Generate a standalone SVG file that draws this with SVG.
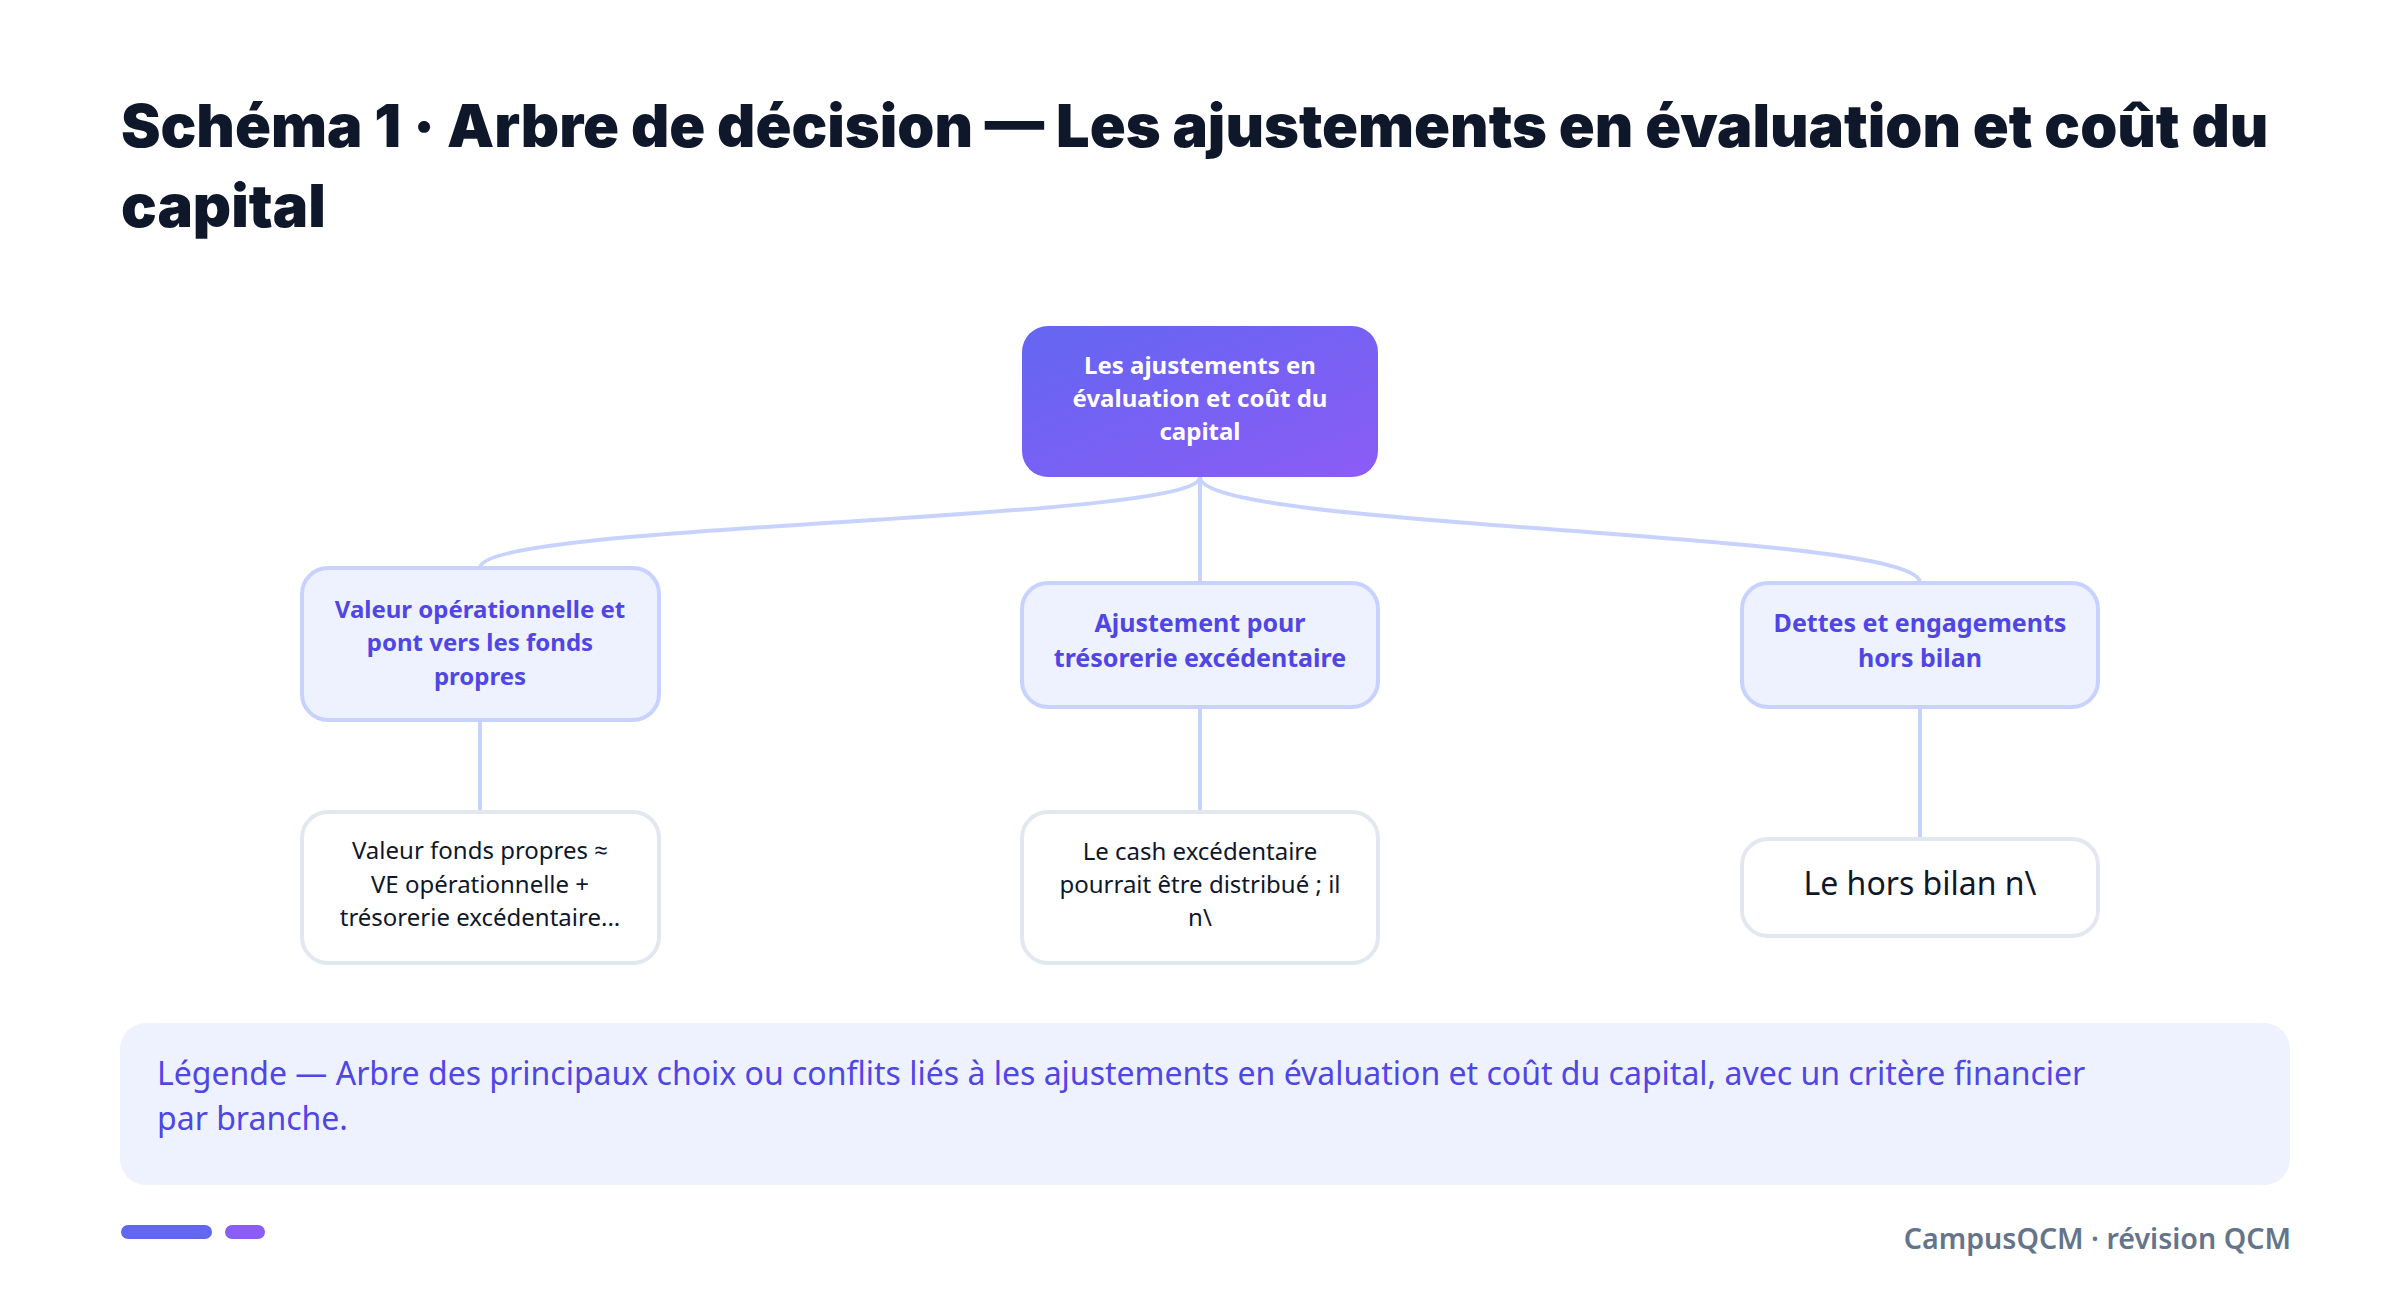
<svg xmlns="http://www.w3.org/2000/svg" width="2400" height="1293" viewBox="0 0 2400 1293">
  <defs>
    <linearGradient id="rootGrad" x1="0" y1="0" x2="1" y2="1">
      <stop offset="0" stop-color="#6366f1"/>
      <stop offset="1" stop-color="#8b5cf6"/>
    </linearGradient>
    <style>
      .title { font-family: "Inter", "Noto Sans", sans-serif; font-weight: 900; font-size: 59.4px; fill: #0f172a; }
      .rootText { font-family: "Noto Sans", "Open Sans", sans-serif; font-weight: 700; font-size: 24px; fill: #ffffff; text-anchor: middle; }
      .l1 { fill: #eef2ff; stroke: #c7d2fe; stroke-width: 4; }
      .l1Text { font-family: "Noto Sans", "Open Sans", sans-serif; font-weight: 700; font-size: 25px; fill: #4f46e5; text-anchor: middle; }
      .l2 { fill: #ffffff; stroke: #e2e8f0; stroke-width: 4; }
      .l2Text { font-family: "Noto Sans", "Open Sans", sans-serif; font-weight: 400; font-size: 24px; fill: #0f172a; text-anchor: middle; }
      .edge { fill: none; stroke: #c7d2fe; stroke-width: 4; stroke-linecap: round; }
      .legend { font-family: "Noto Sans", "Open Sans", sans-serif; font-size: 32px; fill: #4f46e5; }
      .footer { font-family: "Noto Sans", "Open Sans", sans-serif; font-weight: 600; font-size: 28.6px; fill: #64748b; text-anchor: end; }
    </style>
  </defs>
  <rect width="2400" height="1293" fill="#ffffff"/>

  <text class="title" x="121" y="147">Schéma 1 · Arbre de décision — Les ajustements en évaluation et coût du</text>
  <text class="title" x="121" y="227">capital</text>

  <g id="connectors">
    <path class="edge" d="M1200,477 C1200,522 480,522 480,568"/>
    <path class="edge" d="M1200,477 L1200,583"/>
    <path class="edge" d="M1200,477 C1200,530 1920,530 1920,583"/>
    <path class="edge" d="M480,720 L480,812"/>
    <path class="edge" d="M1200,707 L1200,812"/>
    <path class="edge" d="M1920,707 L1920,839"/>
  </g>

  <g id="root">
    <rect x="1022" y="326" width="356" height="151" rx="26" fill="url(#rootGrad)"/>
    <text class="rootText" x="1200" y="374">Les ajustements en</text>
    <text class="rootText" x="1200" y="407">évaluation et coût du</text>
    <text class="rootText" x="1200" y="440">capital</text>
  </g>

  <g id="n-valeur">
    <rect class="l1" x="302" y="568" width="357" height="152" rx="26"/>
    <text class="l1Text" x="480" y="618" style="font-size:24px">Valeur opérationnelle et</text>
    <text class="l1Text" x="480" y="651" style="font-size:24px">pont vers les fonds</text>
    <text class="l1Text" x="480" y="685" style="font-size:24px">propres</text>
  </g>

  <g id="n-ajustement">
    <rect class="l1" x="1022" y="583" width="356" height="124" rx="26"/>
    <text class="l1Text" x="1200" y="632">Ajustement pour</text>
    <text class="l1Text" x="1200" y="667">trésorerie excédentaire</text>
  </g>

  <g id="n-dettes">
    <rect class="l1" x="1742" y="583" width="356" height="124" rx="26"/>
    <text class="l1Text" x="1920" y="632">Dettes et engagements</text>
    <text class="l1Text" x="1920" y="667">hors bilan</text>
  </g>

  <g id="n-valeur-detail">
    <rect class="l2" x="302" y="812" width="357" height="151" rx="26"/>
    <text class="l2Text" x="480" y="859">Valeur fonds propres ≈</text>
    <text class="l2Text" x="480" y="893">VE opérationnelle +</text>
    <text class="l2Text" x="480" y="926">trésorerie excédentaire...</text>
  </g>

  <g id="n-cash-detail">
    <rect class="l2" x="1022" y="812" width="356" height="151" rx="26"/>
    <text class="l2Text" x="1200" y="860">Le cash excédentaire</text>
    <text class="l2Text" x="1200" y="893">pourrait être distribué ; il</text>
    <text class="l2Text" x="1200" y="926">n\</text>
  </g>

  <g id="n-hors-bilan-detail">
    <rect class="l2" x="1742" y="839" width="356" height="97" rx="26"/>
    <text class="l2Text" x="1920" y="895" style="font-size:32px">Le hors bilan n\</text>
  </g>

  <g id="legend">
    <rect x="120" y="1023" width="2170" height="162" rx="26" fill="#eef2ff"/>
    <text class="legend" x="157" y="1085">Légende — Arbre des principaux choix ou conflits liés à les ajustements en évaluation et coût du capital, avec un critère financier</text>
    <text class="legend" x="157" y="1130">par branche.</text>
  </g>

  <g id="footer">
    <rect x="121" y="1225" width="91" height="14" rx="7" fill="#6366f1"/>
    <rect x="225" y="1225" width="40" height="14" rx="7" fill="#8b5cf6"/>
    <text class="footer" x="2291" y="1249">CampusQCM · révision QCM</text>
  </g>
</svg>
